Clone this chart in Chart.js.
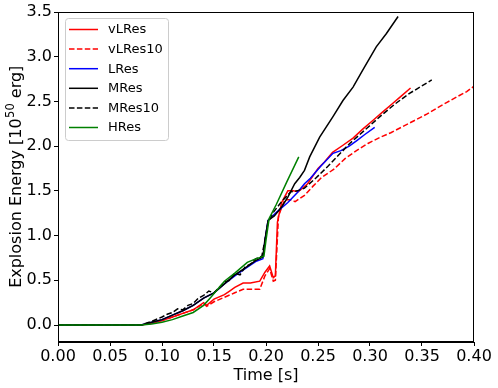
<!DOCTYPE html>
<html>
<head>
<meta charset="utf-8">
<script src="https://cdn.jsdelivr.net/npm/chart.js@4/dist/chart.umd.min.js"></script>
<style>
html,body{margin:0;padding:0;background:#fff;}
#wrap{width:498px;height:388px;}
</style>
</head>
<body>
<div id="wrap"><canvas id="c" width="498" height="388"></canvas></div>
<script>
// ---- data (time in s, energy in 1e50 erg) ----
const vLRes_t = [0, 0.08, 0.09, 0.10, 0.11, 0.12, 0.13, 0.14, 0.143, 0.15, 0.16, 0.165, 0.17, 0.178, 0.185, 0.194, 0.199, 0.2035, 0.207, 0.209, 0.211, 0.215, 0.221, 0.226, 0.231, 0.24, 0.25, 0.256, 0.264, 0.274, 0.2837, 0.293, 0.303, 0.312, 0.322, 0.33, 0.339];
const vLRes_E = [0, 0, 0.02, 0.05, 0.09, 0.13, 0.17, 0.25, 0.22, 0.29, 0.34, 0.38, 0.42, 0.47, 0.47, 0.49, 0.59, 0.66, 0.53, 0.55, 1.15, 1.37, 1.50, 1.50, 1.49, 1.58, 1.75, 1.82, 1.93, 2.01, 2.09, 2.19, 2.29, 2.38, 2.48, 2.56, 2.65];

const vLRes10_t = [0, 0.08, 0.09, 0.10, 0.11, 0.12, 0.13, 0.14, 0.143, 0.15, 0.16, 0.17, 0.178, 0.185, 0.194, 0.199, 0.2035, 0.207, 0.209, 0.212, 0.218, 0.223, 0.228, 0.237, 0.245, 0.2535, 0.265, 0.276, 0.287, 0.298, 0.31, 0.32, 0.33, 0.34, 0.355, 0.365, 0.374, 0.385, 0.393, 0.40];
const vLRes10_E = [0, 0, 0.02, 0.05, 0.09, 0.13, 0.17, 0.24, 0.21, 0.26, 0.31, 0.36, 0.40, 0.40, 0.40, 0.55, 0.63, 0.49, 0.50, 1.22, 1.40, 1.40, 1.38, 1.45, 1.55, 1.65, 1.74, 1.86, 1.95, 2.03, 2.10, 2.15, 2.21, 2.27, 2.36, 2.43, 2.49, 2.56, 2.61, 2.67];

const LRes_t = [0, 0.08, 0.09, 0.10, 0.11, 0.12, 0.13, 0.14, 0.15, 0.16, 0.17, 0.18, 0.19, 0.197, 0.199, 0.202, 0.21, 0.221, 0.23, 0.237, 0.2427, 0.253, 0.2644, 0.272, 0.28, 0.287, 0.295, 0.3045];
const LRes_E = [0, 0, 0.03, 0.06, 0.11, 0.16, 0.22, 0.30, 0.36, 0.46, 0.55, 0.63, 0.71, 0.74, 0.95, 1.17, 1.26, 1.37, 1.48, 1.58, 1.64, 1.78, 1.92, 1.95, 2.00, 2.06, 2.13, 2.21];

const MRes_t = [0, 0.08, 0.09, 0.10, 0.11, 0.12, 0.13, 0.14, 0.15, 0.16, 0.17, 0.18, 0.19, 0.197, 0.199, 0.202, 0.208, 0.215, 0.221, 0.2276, 0.2324, 0.237, 0.242, 0.2516, 0.2644, 0.274, 0.2837, 0.293, 0.306, 0.3158, 0.327];
const MRes_E = [0, 0, 0.03, 0.06, 0.11, 0.16, 0.22, 0.30, 0.36, 0.46, 0.56, 0.64, 0.72, 0.76, 0.95, 1.17, 1.22, 1.32, 1.43, 1.58, 1.65, 1.73, 1.88, 2.10, 2.33, 2.51, 2.66, 2.85, 3.11, 3.26, 3.45];

const MRes10_t = [0, 0.08, 0.09, 0.10, 0.105, 0.11, 0.115, 0.12, 0.125, 0.13, 0.135, 0.14, 0.145, 0.15, 0.155, 0.16, 0.165, 0.17, 0.175, 0.18, 0.185, 0.19, 0.196, 0.199, 0.202, 0.207, 0.215, 0.224, 0.23, 0.237, 0.2485, 0.26, 0.2805, 0.297, 0.3125, 0.325, 0.338, 0.348, 0.3594];
const MRes10_E = [0, 0, 0.04, 0.09, 0.12, 0.14, 0.18, 0.17, 0.22, 0.24, 0.30, 0.33, 0.38, 0.36, 0.42, 0.48, 0.50, 0.58, 0.56, 0.65, 0.68, 0.74, 0.77, 0.95, 1.15, 1.26, 1.38, 1.49, 1.50, 1.53, 1.65, 1.78, 2.03, 2.20, 2.36, 2.48, 2.59, 2.66, 2.74];

const HRes_t = [0, 0.08, 0.09, 0.10, 0.11, 0.12, 0.13, 0.14, 0.147, 0.16, 0.17, 0.182, 0.19, 0.198, 0.2, 0.203, 0.21, 0.22, 0.2315];
const HRes_E = [0, 0, 0.01, 0.03, 0.06, 0.10, 0.14, 0.22, 0.31, 0.49, 0.58, 0.70, 0.74, 0.77, 0.95, 1.19, 1.35, 1.60, 1.88];

const seriesNames = ["vLRes", "vLRes10", "LRes", "MRes", "MRes10", "HRes"];
const xTicks = [0.00, 0.05, 0.10, 0.15, 0.20, 0.25, 0.30, 0.35, 0.40];
const yTicks = [0.0, 0.5, 1.0, 1.5, 2.0, 2.5, 3.0, 3.5];
const yTitleParts = ["Explosion Energy [10", "50", " erg]"];

// ---- build ----
function pts(t, e) { return t.map((v, i) => ({x: v, y: e[i]})); }
const styles = [
  {color: '#ff0000', dash: []},
  {color: '#ff0000', dash: [5.5, 2.4]},
  {color: '#0000ff', dash: []},
  {color: '#000000', dash: []},
  {color: '#000000', dash: [5.5, 2.4]},
  {color: '#008000', dash: []}
];
const allData = [pts(vLRes_t, vLRes_E), pts(vLRes10_t, vLRes10_E), pts(LRes_t, LRes_E),
                 pts(MRes_t, MRes_E), pts(MRes10_t, MRes10_E), pts(HRes_t, HRes_E)];
const datasets = seriesNames.map((n, i) => ({
  label: n, data: allData[i], borderColor: styles[i].color, backgroundColor: styles[i].color,
  borderDash: styles[i].dash, borderWidth: 1.5, pointRadius: 0, tension: 0, fill: false,
  order: 6 - i
}));

const FONT = "'DejaVu Sans', sans-serif";

const framePlugin = {
  id: 'frame',
  afterDraw(chart) {
    const ctx = chart.ctx, a = chart.chartArea;
    ctx.save();
    ctx.strokeStyle = '#000'; ctx.lineWidth = 1;
    ctx.strokeRect(Math.round(a.left) + 0.5, Math.round(a.top) + 0.5,
                   Math.round(a.right - a.left) - 1, Math.round(a.bottom - a.top) - 1);
    // y axis title with superscript
    ctx.save();
    ctx.translate(15, (a.top + a.bottom) / 2);
    ctx.rotate(-Math.PI / 2);
    ctx.fillStyle = '#000';
    ctx.textBaseline = 'alphabetic';
    const big = '16px ' + FONT, small = '11.5px ' + FONT;
    ctx.font = big; const w0 = ctx.measureText(yTitleParts[0]).width;
    const w2 = ctx.measureText(yTitleParts[2]).width;
    ctx.font = small; const w1 = ctx.measureText(yTitleParts[1]).width;
    let x = -(w0 + w1 + w2) / 2;
    ctx.font = big; ctx.fillText(yTitleParts[0], x, 6); x += w0;
    ctx.font = small; ctx.fillText(yTitleParts[1], x + 0.5, -1.5); x += w1 + 0.5;
    ctx.font = big; ctx.fillText(yTitleParts[2], x, 6);
    ctx.restore();
    // legend
    const bx = 65.5, by = 18.5, bw = 103, bh = 122;
    ctx.beginPath();
    ctx.roundRect(bx, by, bw, bh, 3);
    ctx.fillStyle = 'rgba(255,255,255,0.85)';
    ctx.fill();
    ctx.strokeStyle = '#cccccc'; ctx.lineWidth = 1;
    ctx.stroke();
    ctx.font = '13px ' + FONT;
    ctx.textBaseline = 'middle';
    chart.data.datasets.forEach((ds, i) => {
      const y = 29.5 + i * 19.6;
      ctx.beginPath();
      ctx.setLineDash(ds.borderDash);
      ctx.strokeStyle = ds.borderColor; ctx.lineWidth = 1.5;
      ctx.moveTo(69, y); ctx.lineTo(98, y); ctx.stroke();
      ctx.setLineDash([]);
      ctx.fillStyle = '#000';
      ctx.fillText(ds.label, 108, y + 0.5);
    });
    ctx.restore();
  }
};

new Chart(document.getElementById('c'), {
  type: 'line',
  data: {datasets},
  options: {
    responsive: false, animation: false, devicePixelRatio: 1,
    layout: {padding: {left: 0, right: 24, top: 12, bottom: 0}},
    plugins: {legend: {display: false}, tooltip: {enabled: false}},
    scales: {
      x: {
        type: 'linear', min: 0, max: 0.40,
        afterBuildTicks: (s) => { s.ticks = xTicks.map(v => ({value: v})); },
        afterFit: (s) => { s.height = 46; },
        grid: {display: true, drawOnChartArea: false, drawTicks: true, tickLength: 4, color: '#000'},
        border: {display: true, color: '#000'},
        ticks: {color: '#000', font: {family: FONT, size: 16}, padding: 1, maxRotation: 0,
                callback: (v) => Number(v).toFixed(2)},
        title: {display: true, text: 'Time [s]', color: '#000', font: {family: FONT, size: 16}, padding: {top: 0, bottom: 3}}
      },
      y: {
        type: 'linear', min: -0.19, max: 3.5,
        afterBuildTicks: (s) => { s.ticks = yTicks.map(v => ({value: v})); },
        afterFit: (s) => { s.width = 58; },
        grid: {display: true, drawOnChartArea: false, drawTicks: true, tickLength: 4, color: '#000'},
        border: {display: true, color: '#000'},
        ticks: {color: '#000', font: {family: FONT, size: 16}, padding: 2,
                callback: (v) => Number(v).toFixed(1)},
        title: {display: false}
      }
    }
  },
  plugins: [framePlugin]
});
</script>
</body>
</html>
